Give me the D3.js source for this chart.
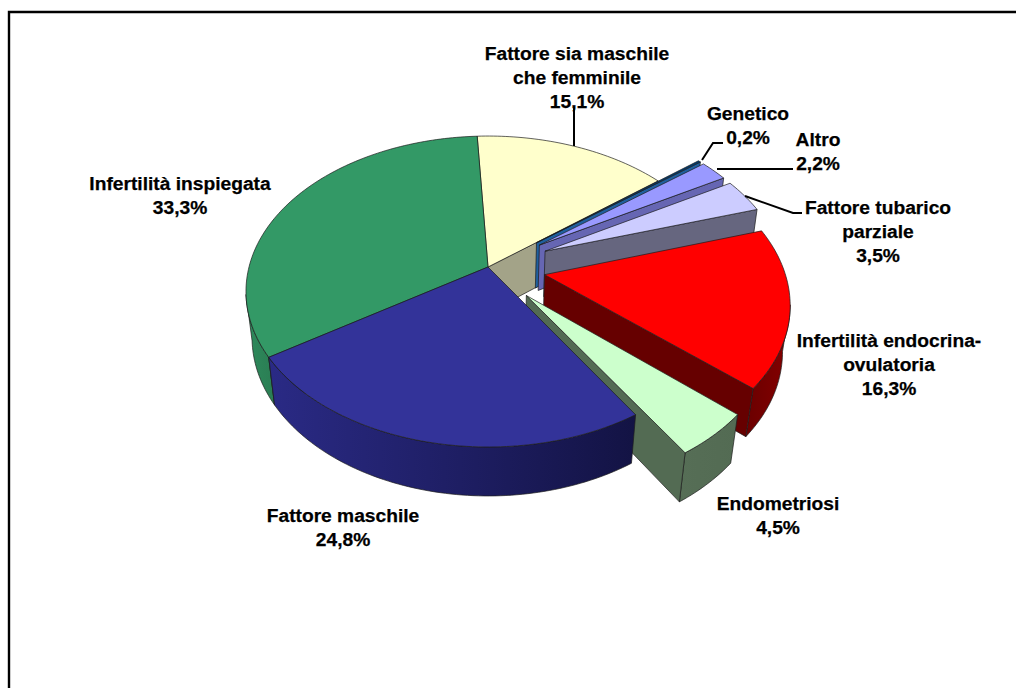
<!DOCTYPE html>
<html><head><meta charset="utf-8">
<script src="https://cdn.jsdelivr.net/npm/d3@7"></script>
<style>html,body{margin:0;padding:0;background:#fff;overflow:hidden}svg{display:block}
text{font-family:"Liberation Sans",Arial,sans-serif;font-weight:700;font-size:19.2px;fill:#000;stroke:#000;stroke-width:0.25;text-anchor:middle;dominant-baseline:central}</style>
</head><body><svg id="c" width="1016" height="688"></svg>
<script>
// ---- data ----
const categories = ["Fattore sia maschile che femminile","Genetico","Altro","Fattore tubarico parziale","Infertilità endocrina-ovulatoria","Endometriosi","Fattore maschile","Infertilità inspiegata"];
const values = [15.1,0.2,2.2,3.5,16.3,4.5,24.8,33.3];
const valueLabels = ["15,1%","0,2%","2,2%","3,5%","16,3%","4,5%","24,8%","33,3%"];
const labelLines = [["Fattore sia maschile","che femminile"],["Genetico"],["Altro"],["Fattore tubarico","parziale"],["Infertilità endocrina-","ovulatoria"],["Endometriosi"],["Fattore maschile"],["Infertilità inspiegata"]];
// ---- styling / layout ----
const explode = [0,0.265,0.265,0.265,0.24,0.24,0,0];
const topColor = ["#ffffcc","#003a70","#9999ff","#ccccff","#ff0000","#ccffcc","#333399","#339966"];
const cutColor = ["#a3a388","#1f5f9e","#6666b3","#66667f","#660000","#536b53","#1f1f66","#1f5c3d"];
const rimColor = [["#a3a388","#a3a388"],["#1f5f9e","#1f5f9e"],["#6666b3","#6666b3"],["#66667f","#66667f"],["#6a0000","#850000"],["#566e56","#536b53"],["#2a2a85","#131344"],["#2e8a5c","#2a7d53"]];
const drawOrder = [0,7,1,2,3,4,5,6];
const labelAnchor = [[577,53],[748,113],[818,139],[878,207],[889,340],[778,503],[343,515],[180,183]];
const lineStep = 24;
const leaders = [[[574,107],[574,146]],[[723,143],[713,143],[702,160]],[[793,169],[717,169]],[[802,213],[793,213],[745,196]]];
const framePoints = [[9,688],[9,12],[1016,12]];

// ---- projection of the tilted disc ----
const cx=488, cy=267, A=239, B=151.6, K=0.1576, H=47, M=0.025;
const project=(u,v,z)=>{const w=1-K*v+M*z;return [cx+A*u/w, cy+(B*v+H*z)/w];};
const svg=d3.select("#c");
const defs=svg.append("defs");
const pie=d3.pie().sort(null).startAngle(-3*Math.PI/180).endAngle(-3*Math.PI/180+2*Math.PI);
const arcs=pie(values);
const line=d3.line();
const EDGE="#1c1c1c";

svg.append("path").attr("d",line(framePoints)).attr("fill","none").attr("stroke","#000").attr("stroke-width",2.4);

drawOrder.forEach(i=>{
  const a=arcs[i], d=explode[i];
  const mid=(a.startAngle+a.endAngle)/2;
  const ou=d*Math.sin(mid), ov=-d*Math.cos(mid);
  const P=(t,z)=>project(ou+Math.sin(t),ov-Math.cos(t),z);
  const C=z=>project(ou,ov,z);
  const n=Math.max(4,Math.ceil((a.endAngle-a.startAngle)/0.02));
  const ts=d3.range(n+1).map(k=>a.startAngle+(a.endAngle-a.startAngle)*k/n);
  const g=svg.append("g");
  const face=(pts,fill)=>g.append("path").attr("d",line(pts)+"Z").attr("fill",fill)
     .attr("stroke",EDGE).attr("stroke-width",0.7).attr("stroke-linejoin","round");
  const sE=P(a.startAngle,0), eE=P(a.endAngle,0), c0=C(0);
  // rim: only the part of the outer wall that turns to the viewer
  const vis=ts.filter((t,k)=>k<n ? P(ts[k+1],0)[0]<P(t,0)[0] : P(t,0)[0]<P(ts[k-1],0)[0]);
  const rimPts = vis.length>1 ? vis.map(t=>P(t,0)).concat(vis.slice().reverse().map(t=>P(t,1))) : null;
  if(rimPts){
    const id="rim"+i, xs=rimPts.map(p=>p[0]);
    const lg=defs.append("linearGradient").attr("id",id).attr("gradientUnits","userSpaceOnUse")
      .attr("x1",d3.min(xs)).attr("x2",d3.max(xs)).attr("y1",0).attr("y2",0);
    lg.append("stop").attr("offset",0).attr("stop-color",rimColor[i][0]);
    lg.append("stop").attr("offset",1).attr("stop-color",rimColor[i][1]);
    face(rimPts,"url(#"+id+")");
  }
  // end cut wall faces the viewer when its normal (cos t, sin t) has a positive v part
  if(Math.sin(a.endAngle)>0) face([c0,eE,P(a.endAngle,1),C(1)],cutColor[i]);
  // start cut wall, normal (-cos t, -sin t)
  if(Math.sin(a.startAngle)<0) face([c0,sE,P(a.startAngle,1),C(1)],cutColor[i]);
  // top
  face([c0].concat(ts.map(t=>P(t,0))),topColor[i]);
});

// leader lines
svg.append("g").selectAll("path").data(leaders).join("path")
  .attr("d",d=>line(d)).attr("fill","none").attr("stroke","#000").attr("stroke-width",2);

// labels
const lg=svg.append("g").attr("class","labels");
labelLines.forEach((ls,i)=>{
  ls.concat([valueLabels[i]]).forEach((s,j)=>{
    lg.append("text").attr("x",labelAnchor[i][0]).attr("y",labelAnchor[i][1]+j*lineStep).text(s);
  });
});
</script></body></html>
